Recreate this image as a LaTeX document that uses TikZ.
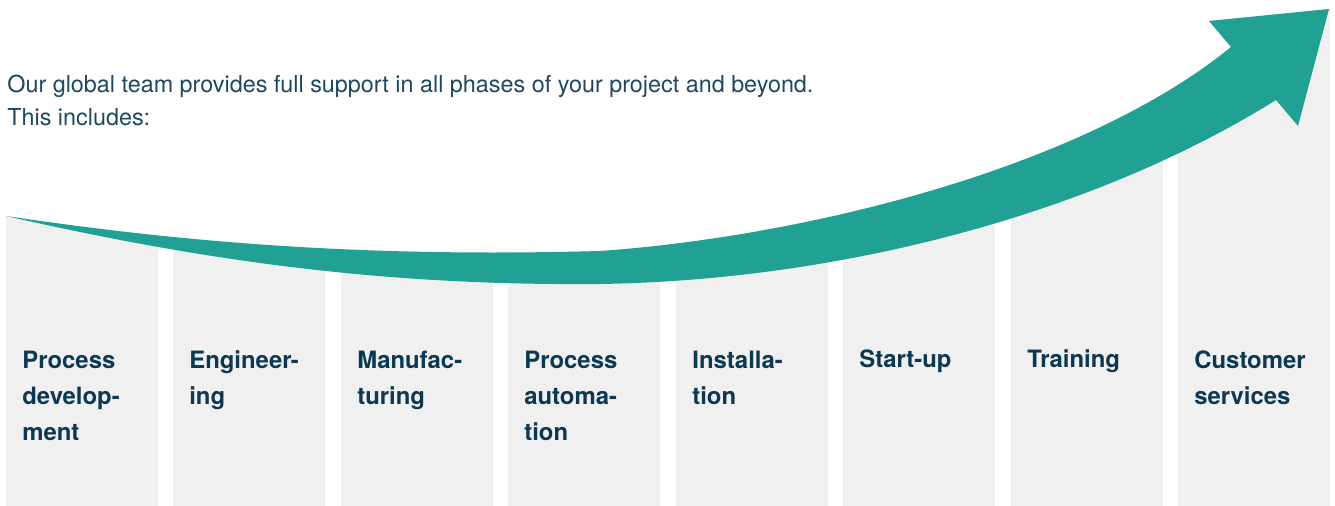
\documentclass[tikz,border=0pt]{standalone}
\usepackage{fontspec}
\setmainfont{TeX Gyre Heros}
\definecolor{teal_arrow}{RGB}{33,160,148}
\definecolor{column_grey}{RGB}{240,240,240}
\definecolor{label_navy}{RGB}{12,56,82}
\definecolor{intro_navy}{RGB}{30,72,98}
\begin{document}
\begin{tikzpicture}[x=0.02cm, y=-0.02cm,
    column_style/.style={fill=column_grey, draw=none, inner sep=0pt, anchor=south west,
        minimum width=3.04cm, minimum height=10.12cm},
    label_style/.style={anchor=base west, align=left, inner sep=0pt, text=label_navy,
        font=\fontsize{13.6pt}{20.4pt}\selectfont\bfseries},
    intro_style/.style={anchor=base west, align=left, inner sep=0pt, text=intro_navy,
        font=\fontsize{13.3pt}{19.3pt}\selectfont},
    arrow_style/.style={fill=teal_arrow, draw=none}]

    \useasboundingbox (0,0) rectangle (1335,506);

    % intro text (base anchor sits on the last line)
    \node[intro_style] (intro) at (7,126) {Our global team provides full support in all phases of your project and beyond.\\ This includes:};

    % grey columns, cut off along the top of the arrow
    \begin{scope}
        \clip (6,216) .. controls (200,245) and (380,257) .. (600,251)
            .. controls (800,237) and (1080,170) .. (1231,47)
            -- (1209,21) -- (1329,9) -- (1335,9) -- (1335,506) -- (0,506) -- (0,216) -- cycle;
        \node[column_style] (c1) at (6,506) {};
        \node[column_style] (c2) at (173,506) {};
        \node[column_style] (c3) at (341,506) {};
        \node[column_style] (c4) at (508,506) {};
        \node[column_style] (c5) at (676,506) {};
        \node[column_style] (c6) at (843,506) {};
        \node[column_style] (c7) at (1011,506) {};
        \node[column_style] (c8) at (1178,506) {};
    \end{scope}

    % the rising arrow
    \fill[arrow_style] (6,216) .. controls (200,245) and (380,257) .. (600,251)
        .. controls (800,237) and (1080,170) .. (1231,47)
        -- (1209,21) -- (1329,9) -- (1298,126) -- (1276,100)
        .. controls (1100,210) and (850,280) .. (600,284)
        .. controls (380,286) and (200,260) .. (6,216) -- cycle;

    % phase labels (placed on their last line)
    \node[label_style] (l1) at (22,440) {Process\\develop-\\ment};
    \node[label_style] (l2) at (189,404) {Engineer-\\ing};
    \node[label_style] (l3) at (357,404) {Manufac-\\turing};
    \node[label_style] (l4) at (524,440) {Process\\automa-\\tion};
    \node[label_style] (l5) at (692,404) {Installa-\\tion};
    \node[label_style] (l6) at (859,368) {Start-up};
    \node[label_style] (l7) at (1027,368) {Training};
    \node[label_style] (l8) at (1194,404) {Customer\\services};
\end{tikzpicture}
\end{document}
